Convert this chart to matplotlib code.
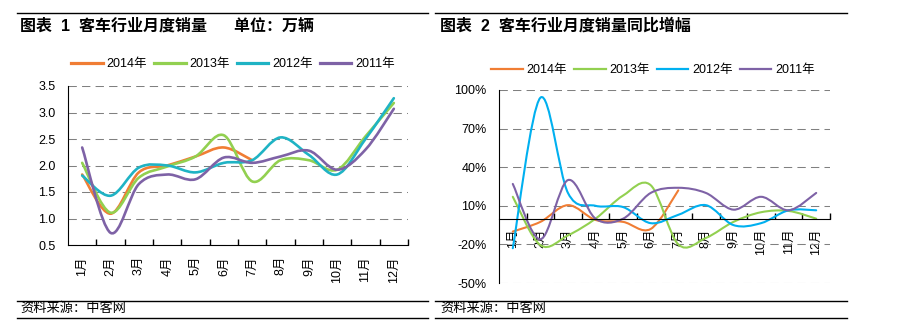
import numpy as np
import matplotlib
matplotlib.use('Agg')
import matplotlib.pyplot as plt
from matplotlib.path import Path
from matplotlib.patches import PathPatch
from matplotlib.lines import Line2D

plt.rcParams['font.family'] = ['Liberation Sans', 'Noto Sans CJK SC']

#%% data
months = ['1月', '2月', '3月', '4月', '5月', '6月', '7月', '8月', '9月', '10月', '11月', '12月']
years = ['2014年', '2013年', '2012年', '2011年']

# monthly sales, 10k vehicles
sales_2014 = [1.83, 1.09, 1.87, 2.00, 2.17, 2.34, 2.10]
sales_2013 = [2.05, 1.11, 1.77, 1.98, 2.17, 2.57, 1.70, 2.10, 2.10, 1.92, 2.55, 3.18]
sales_2012 = [1.81, 1.43, 1.96, 2.00, 1.87, 2.05, 2.10, 2.53, 2.20, 1.83, 2.50, 3.27]
sales_2011 = [2.34, 0.73, 1.65, 1.83, 1.74, 2.15, 2.05, 2.17, 2.28, 1.92, 2.30, 3.07]

# year-on-year growth, %
yoy_2014 = [-10, -2.5, 10.5, -1, -2.5, -8, 22]
yoy_2013 = [17, -20.6, -13, 0, 18, 26, -20, -15, -2.5, 5, 6, 0]
yoy_2012 = [-23, 94, 20, 10, 9, -3.5, 3, 10.5, -5, -3.5, 6.5, 6.5]
yoy_2011 = [27, -16, 30, 0, 0, 20, 24, 20, 7, 17, 6.5, 20]

left_ticks = [0.5, 1.0, 1.5, 2.0, 2.5, 3.0, 3.5]
right_ticks = [-50, -20, 10, 40, 70, 100]


#%% helpers
def smooth_path(ys):
    # Excel-like smoothed line: bezier through each point
    pts = np.column_stack([np.arange(len(ys)) + 0.5, ys]).astype(float)
    n = len(pts)
    verts = [pts[0]]
    codes = [Path.MOVETO]
    for i in range(n - 1):
        p0 = pts[max(i - 1, 0)]
        p1 = pts[i]
        p2 = pts[i + 1]
        p3 = pts[min(i + 2, n - 1)]
        verts += [p1 + (p2 - p0) / 6, p2 - (p3 - p1) / 6, p2]
        codes += [Path.CURVE4] * 3
    return Path(verts, codes)


def px(x, y):
    return x / 900, 1 - y / 327


def hrule(fig, x0, x1, y):
    a, b = px(x0, y)
    c, _ = px(x1, y)
    fig.add_artist(Line2D([a, c], [b, b], transform=fig.transFigure, color='black', lw=1))


def setup_axis(ax, ticks, labels, lab_pad):
    ax.set_xlim(0, 12)
    ax.set_ylim(ticks[0], ticks[-1])
    ax.set_yticks(ticks)
    ax.set_yticklabels(labels)
    ax.tick_params(axis='y', length=0, pad=9, labelsize=9)
    ax.set_xticks(np.arange(1, 13))
    ax.set_xticklabels([])
    ax.tick_params(axis='x', which='major', direction='in', length=4, width=1)
    ax.set_xticks(np.arange(12) + 0.5, minor=True)
    ax.set_xticklabels(months, minor=True, rotation=90, fontsize=9)
    ax.tick_params(axis='x', which='minor', length=0, pad=lab_pad)
    ax.spines['top'].set_visible(False)
    ax.spines['right'].set_visible(False)
    ax.grid(axis='y', color='#808080', lw=0.75, linestyle=(0, (8, 5)))
    ax.set_axisbelow(True)


#%% figure
fig = plt.figure(figsize=(9, 3.27), dpi=100)

ax1 = fig.add_axes([68 / 900, 1 - 245 / 327, 340 / 900, 159 / 327])
ax2 = fig.add_axes([499 / 900, 1 - 283 / 327, 331 / 900, 193 / 327])
ax2.spines['bottom'].set_position(('data', 0))

colors_l = ['#F07D34', '#92D050', '#1FB3C4', '#7E62A6']
colors_r = ['#F07D34', '#92D050', '#00B0F0', '#7E62A6']

setup_axis(ax1, left_ticks, ['%.1f' % t for t in left_ticks], 8)
setup_axis(ax2, right_ticks, ['%d%%' % t for t in right_ticks], 7)

for series, c in zip([sales_2014, sales_2013, sales_2012, sales_2011], colors_l):
    ax1.add_patch(PathPatch(smooth_path(series), fill=False, edgecolor=c, lw=1.9,
                            capstyle='round', joinstyle='round'))
for series, c in zip([yoy_2014, yoy_2013, yoy_2012, yoy_2011], colors_r):
    ax2.add_patch(PathPatch(smooth_path(series), fill=False, edgecolor=c, lw=1.5,
                            capstyle='round', joinstyle='round'))

# legends
h1 = [Line2D([], [], color=c, lw=2.3) for c in colors_l]
h2 = [Line2D([], [], color=c, lw=1.6) for c in colors_r]
fig.legend(h1, years, loc='center', bbox_to_anchor=px(233, 64), ncol=4, frameon=False,
           fontsize=9, handlelength=2.5, handletextpad=0.3, columnspacing=0.6)
fig.legend(h2, years, loc='center', bbox_to_anchor=px(653, 70), ncol=4, frameon=False,
           fontsize=9, handlelength=2.5, handletextpad=0.3, columnspacing=0.6)

# titles, rules and sources
hrule(fig, 17, 428, 13)
hrule(fig, 435, 847, 13)
fig.text(*px(20, 26), '图表  1  客车行业月度销量      单位：万辆', fontsize=11.5,
         fontweight='bold', va='center', ha='left')
fig.text(*px(440, 26), '图表  2  客车行业月度销量同比增幅', fontsize=11.5,
         fontweight='bold', va='center', ha='left')

hrule(fig, 17, 428, 301)
hrule(fig, 17, 428, 318)
hrule(fig, 435, 847, 301)
hrule(fig, 435, 847, 318)
fig.text(*px(20, 309), '资料来源：中客网', fontsize=9.5, style='italic', va='center', ha='left')
fig.text(*px(440, 309), '资料来源：中客网', fontsize=9.5, style='italic', va='center', ha='left')

plt.savefig('out.png', dpi=100)
